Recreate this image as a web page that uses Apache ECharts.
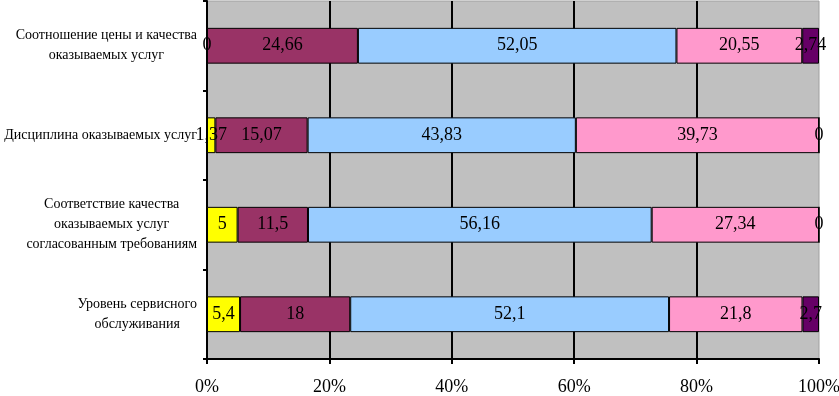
<!DOCTYPE html>
<html>
<head>
<meta charset="utf-8">
<script src="https://cdn.jsdelivr.net/npm/echarts@6/dist/echarts.min.js"></script>
<style>
  html, body { margin: 0; padding: 0; background: #ffffff; }
  #chart { width: 839px; height: 396px; }
</style>
</head>
<body>
<div id="chart"></div>
<script>
// categories, top to bottom
var categories = [
  'Соотношение цены и качества\nоказываемых услуг',
  'Дисциплина оказываемых услуг',
  'Соответствие качества\nоказываемых услуг\nсогласованным требованиям',
  'Уровень сервисного\nобслуживания'
];
var seriesNames = ['Оценка 1', 'Оценка 2', 'Оценка 3', 'Оценка 4', 'Оценка 5'];
var seriesColors = ['#ffff00', '#993366', '#99ccff', '#ff99cc', '#660066'];
var values1 = [0, 1.37, 5, 5.4];
var values2 = [24.66, 15.07, 11.5, 18];
var values3 = [52.05, 43.83, 56.16, 52.1];
var values4 = [20.55, 39.73, 27.34, 21.8];
var values5 = [2.74, 0, 0, 2.7];
var allValues = [values1, values2, values3, values4, values5];
var xTicks = [0, 20, 40, 60, 80, 100];

var serif = '"Liberation Serif", "Times New Roman", serif';

var chart = echarts.init(document.getElementById('chart'));

var series = allValues.map(function (vals, i) {
  return {
    name: seriesNames[i],
    type: 'bar',
    stack: 'total',
    barWidth: '40%',
    data: vals,
    itemStyle: { color: seriesColors[i], borderColor: '#000', borderWidth: 1 },
    label: {
      show: true,
      position: 'inside',
      color: '#000',
      fontFamily: serif,
      fontSize: 18,
      formatter: function (p) { return String(p.value).replace('.', ','); }
    },
    emphasis: { disabled: true }
  };
});

var option = {
  animation: false,
  grid: {
    left: 207, right: 20, top: 1, bottom: 37,
    outerBoundsMode: 'none',
    containLabel: false,
    show: true,
    backgroundColor: '#c0c0c0',
    borderColor: '#a0a0a0',
    borderWidth: 1
  },
  xAxis: {
    type: 'value',
    min: xTicks[0],
    max: xTicks[xTicks.length - 1],
    interval: 20,
    axisLine: { show: true, lineStyle: { color: '#000', width: 2 } },
    axisTick: { show: true, length: 5, lineStyle: { color: '#000', width: 2 } },
    splitLine: { show: true, showMinLine: false, showMaxLine: false, lineStyle: { color: '#000', width: 2 } },
    axisLabel: {
      color: '#000',
      fontFamily: serif,
      fontSize: 18,
      margin: 19,
      formatter: '{value}%'
    }
  },
  yAxis: {
    type: 'category',
    inverse: true,
    data: categories,
    axisLine: { show: true, lineStyle: { color: '#000', width: 2 } },
    axisTick: { show: true, length: 4, lineStyle: { color: '#000', width: 2 } },
    axisLabel: {
      margin: 10,
      color: '#000',
      fontFamily: serif,
      fontSize: 14,
      lineHeight: 20,
      formatter: function (v) {
        return v.split('\n').map(function (s) { return '{c|' + s + '}'; }).join('\n');
      },
      rich: {
        c: { align: 'center', fontFamily: serif, fontSize: 14, lineHeight: 20, color: '#000' }
      }
    }
  },
  series: series
};

chart.setOption(option);
</script>
</body>
</html>
